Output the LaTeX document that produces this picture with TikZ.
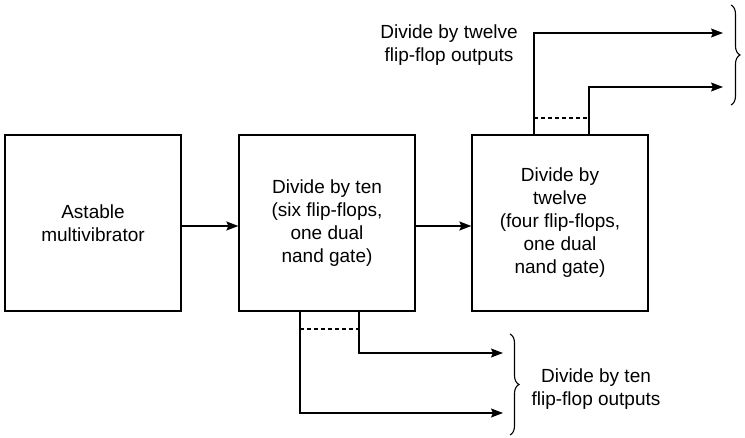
\documentclass[tikz,border=0pt]{standalone}
\usepackage{fontspec}
\setmainfont{Liberation Sans}
\usetikzlibrary{arrows.meta,decorations.pathreplacing,calc}
\begin{document}
\begin{tikzpicture}[x=1pt,y=-1pt,
  every node/.style={font=\fontsize{19}{23}\selectfont, inner sep=0pt},
  blk/.style={draw, line width=1.3pt, minimum width=176pt, minimum height=176pt, align=center},
  conn/.style={line width=1.3pt, -{Stealth[length=12pt,width=9pt,inset=2pt]}},
  wire/.style={line width=1.3pt},
  dashln/.style={line width=1.1pt, dash pattern=on 4pt off 3pt},
  brc/.style={line width=1.1pt, decorate, decoration={brace, amplitude=9pt}},
  lbl/.style={align=center}]
\useasboundingbox (0,0) rectangle (745,438);
\node[blk] (b1) at (93,223) {Astable\\multivibrator};
\node[blk] (b2) at (327,223) {Divide by ten\\(six flip-flops,\\one dual\\nand gate)};
\node[blk] (b3) at (560,223) {Divide by\\twelve\\(four flip-flops,\\one dual\\nand gate)};
\draw[conn] ($(b1.east)+(0,3)$) -- ($(b2.west)+(0,3)$);
\draw[conn] ($(b2.east)+(0,3)$) -- ($(b3.west)+(0,3)$);
% bottom outputs
\coordinate (d1) at (300,311);
\coordinate (d2) at (359,311);
\coordinate (e1) at (503,413);
\coordinate (e2) at (503,353);
\draw[conn] (d1) |- (e1);
\draw[conn] (d2) |- (e2);
\draw[dashln] (300,329) -- (359,329);
% top outputs
\coordinate (u1) at (534,135);
\coordinate (u2) at (589,135);
\coordinate (f1) at (723,33);
\coordinate (f2) at (723,87);
\draw[conn] (u1) |- (f1);
\draw[conn] (u2) |- (f2);
\draw[dashln] (534,118) -- (589,118);
% braces
\coordinate (bt1) at (731,5);
\coordinate (bt2) at (731,105);
\draw[brc] (bt1) -- (bt2);
\coordinate (bb1) at (510,334);
\coordinate (bb2) at (510,435);
\draw[brc] (bb1) -- (bb2);
% labels
\node[lbl] (l1) at (449,45) {Divide by twelve\\flip-flop outputs};
\node[lbl] (l2) at (596,389) {Divide by ten\\flip-flop outputs};
\end{tikzpicture}
\end{document}
